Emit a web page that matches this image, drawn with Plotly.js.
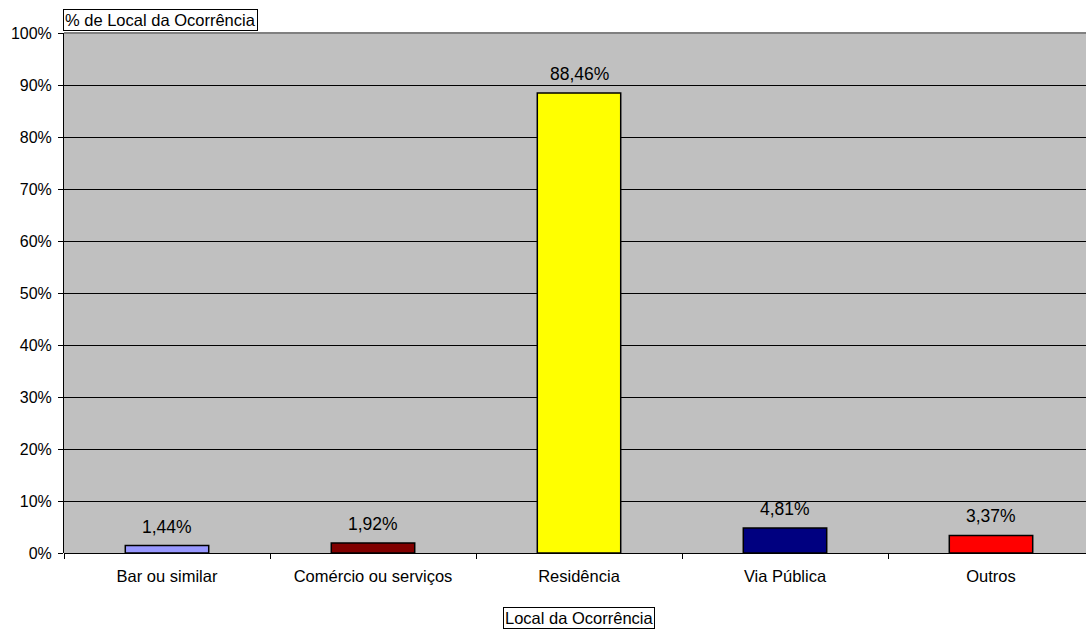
<!DOCTYPE html>
<html>
<head>
<meta charset="utf-8">
<script src="https://cdn.plot.ly/plotly-3.0.1.min.js"></script>
<style>html,body{margin:0;padding:0;background:#fff;overflow:hidden;}#chart{width:1094px;height:630px;}</style>
</head>
<body>
<div id="chart"></div>
<script>
const categories = ["Bar ou similar", "Comércio ou serviços", "Residência", "Via Pública", "Outros"];
const values = [1.44, 1.92, 88.46, 4.81, 3.37];
const colors = ["#9999FF", "#800000", "#FFFF00", "#000080", "#FF0000"];
const labels = ["1,44%", "1,92%", "88,46%", "4,81%", "3,37%"];
const yTickVals = [0,10,20,30,40,50,60,70,80,90,100];
const yTickText = ["0%","10%","20%","30%","40%","50%","60%","70%","80%","90%","100%"];

const font = "Liberation Sans, Arial, sans-serif";

const trace = {
  type: "bar",
  x: categories,
  y: values,
  marker: {color: colors, line: {color: "#000", width: 1.5}},
  hoverinfo: "none"
};

const annotations = categories.map((c, i) => ({
  x: c, y: values[i], xref: "x", yref: "y",
  text: labels[i], showarrow: false, yanchor: "bottom", yshift: 7,
  font: {family: font, size: 17.5, color: "#000"}
}));
annotations.push({
  x: 0, y: 1, xref: "paper", yref: "paper", xanchor: "left", yanchor: "bottom",
  text: "% de Local da Ocorrência", showarrow: false, xshift: -1, yshift: 2,
  bordercolor: "#000", borderwidth: 1, borderpad: 1, bgcolor: "#fff",
  font: {family: font, size: 16.5, color: "#000"}
});
annotations.push({
  x: 0.5, y: 0, xref: "paper", yref: "paper", xanchor: "center", yanchor: "top",
  text: "Local da Ocorrência", showarrow: false, yshift: -54,
  bordercolor: "#000", borderwidth: 1, borderpad: 1, bgcolor: "#fff",
  font: {family: font, size: 16.5, color: "#000"}
});

const layout = {
  width: 1094, height: 630,
  margin: {l: 64, r: 0, t: 33, b: 77},
  paper_bgcolor: "#fff",
  plot_bgcolor: "#C0C0C0",
  bargap: 0.595,
  showlegend: false,
  font: {family: font, size: 16.5, color: "#000"},
  xaxis: {
    type: "category",
    tickson: "boundaries",
    ticks: "outside", ticklen: 5, tickcolor: "#000", tickwidth: 1,
    showline: false, showgrid: false,
    tickfont: {family: font, size: 16.5, color: "#000"},
    ticklabelstandoff: 11,
    fixedrange: true
  },
  yaxis: {
    range: [0, 100],
    tickvals: yTickVals, ticktext: yTickText,
    ticks: "outside", ticklen: 5, tickcolor: "#000", tickwidth: 1,
    showline: true, linecolor: "#000", linewidth: 1,
    showgrid: true, gridcolor: "#000", gridwidth: 1,
    zeroline: true, zerolinecolor: "#000", zerolinewidth: 1,
    tickfont: {family: font, size: 16, color: "#000"},
    ticklabelstandoff: 3,
    fixedrange: true
  },
  shapes: [
    {type: "line", xref: "paper", yref: "paper", x0: 0, x1: 1, y0: 1, y1: 1,
     line: {color: "#808080", width: 2}}
  ],
  annotations: annotations
};

Plotly.newPlot("chart", [trace], layout, {displayModeBar: false, staticPlot: true});
</script>
</body>
</html>
